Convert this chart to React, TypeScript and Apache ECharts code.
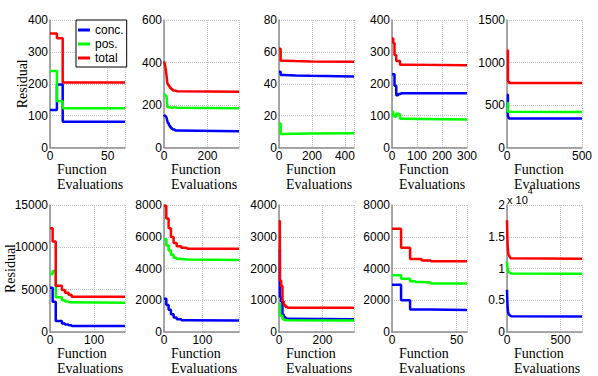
import React, { useEffect, useRef } from "react";
import * as echarts from "echarts";

// ---------- data ----------
const seriesNames = ["conc.", "pos.", "total"];

// top row
const evalsA1 = [0, 6, 11, 65];
const concA1 = [118, 198, 81, 81];
const posA1 = [240, 145, 123, 123];
const totalA1 = [358, 343, 204, 204];

const evalsA2 = [0, 3, 6, 9, 12, 15, 18, 22, 27, 33, 40, 50, 62, 345];
const concA2 = [155, 150, 148, 146, 140, 125, 115, 105, 97, 90, 85, 80, 77, 77];
const posA2 = [252, 250, 246, 244, 240, 192, 190, 189, 188, 187, 190, 187, 185, 185];
const totalA2 = [405, 395, 380, 360, 335, 305, 295, 288, 280, 274, 268, 265, 262, 262];

const evalsA3 = [0, 10, 30, 100, 190, 455];
const concA3 = [47.5, 45.5, 45.2, 45, 44.6, 44.6];
const posA3 = [15, 8.4, 8.6, 8.8, 9, 9];
const totalA3 = [62, 54.4, 54.2, 54, 53.8, 53.8];

const evalsA4 = [0, 5, 10, 17, 25, 32, 40, 300];
const concA4 = [230, 230, 194, 164, 168, 170, 170, 170];
const posA4 = [112, 98, 96, 107, 104, 90, 88, 88];
const totalA4 = [342, 328, 290, 271, 272, 260, 258, 258];

const evalsA5 = [0, 6, 12, 500];
const concA5 = [620, 360, 342, 342];
const posA5 = [525, 420, 418, 418];
const totalA5 = [1140, 780, 760, 760];

// bottom row
const evalsB1 = [0, 6, 13, 27, 34, 42, 49, 170];
const concB1 = [5240, 3580, 1300, 1000, 900, 800, 710, 710];
const posB1 = [6850, 7200, 4100, 3750, 3600, 3500, 3450, 3450];
const totalB1 = [12250, 10700, 5450, 4950, 4650, 4400, 4170, 4170];

const evalsB2 = [0, 6, 12, 18, 25, 33, 45, 60, 195];
const concB2 = [2100, 1700, 1400, 1120, 920, 800, 740, 720, 720];
const posB2 = [5850, 5450, 5130, 4870, 4680, 4600, 4560, 4530, 4530];
const totalB2 = [7950, 7150, 6530, 5990, 5600, 5400, 5300, 5250, 5250];

const evalsB3 = [0, 4, 10, 16, 22, 30, 40, 345];
const concB3 = [2600, 1100, 950, 550, 470, 420, 400, 400];
const posB3 = [900, 520, 500, 410, 380, 370, 360, 360];
const totalB3 = [3500, 1620, 1450, 960, 850, 790, 760, 760];

const evalsB4 = [0, 7, 14, 18, 23, 30, 58];
const concB4 = [2980, 2000, 1420, 1420, 1420, 1380, 1380];
const posB4 = [3570, 3350, 3200, 3150, 3120, 3060, 3060];
const totalB4 = [6500, 5300, 4600, 4600, 4500, 4450, 4450];

const evalsB5 = [0, 3, 6, 10, 15, 22, 30, 40, 700];
const concB5 = [6650, 5000, 3900, 3200, 2800, 2600, 2500, 2460, 2460];
const posB5 = [11100, 10400, 9900, 9600, 9400, 9300, 9200, 9160, 9160];
const totalB5 = [17600, 15200, 13700, 12700, 12100, 11800, 11600, 11520, 11520];

// axis extents / tick steps
const xMaxes = [65, 345, 455, 300, 500, 170, 195, 345, 58, 700];
const xSteps = [50, 200, 200, 100, 500, 100, 100, 200, 50, 500];
const yMaxes = [400, 600, 80, 400, 1500, 15000, 8000, 4000, 8000, 20000];
const ySteps = [100, 200, 20, 100, 500, 5000, 2000, 1000, 2000, 5000];

const panelData = [
  [evalsA1, concA1, posA1, totalA1],
  [evalsA2, concA2, posA2, totalA2],
  [evalsA3, concA3, posA3, totalA3],
  [evalsA4, concA4, posA4, totalA4],
  [evalsA5, concA5, posA5, totalA5],
  [evalsB1, concB1, posB1, totalB1],
  [evalsB2, concB2, posB2, totalB2],
  [evalsB3, concB3, posB3, totalB3],
  [evalsB4, concB4, posB4, totalB4],
  [evalsB5, concB5, posB5, totalB5],
];

// ---------- layout / style ----------
const COLORS = ["#0000ff", "#00ff00", "#ff0000"];
const COL_LEFT = [50, 164, 279, 392, 507];
const ROW_TOP = [20, 205];
const PW = 75;
const PH = 127.5;
const SANS = "'Liberation Sans', Arial, sans-serif";
const SERIF = "'Liberation Serif', 'Times New Roman', serif";
const AXIS_COLOR = "#8c8c8c";

export default function App() {
  const ref = useRef<HTMLDivElement>(null);

  useEffect(() => {
    if (!ref.current) return;
    const chart = echarts.init(ref.current, null, { renderer: "svg" });

    const grids: any[] = [];
    const xAxes: any[] = [];
    const yAxes: any[] = [];
    const series: any[] = [];

    panelData.forEach((pd, i) => {
      const row = i < 5 ? 0 : 1;
      const col = i % 5;
      grids.push({
        left: COL_LEFT[col],
        top: ROW_TOP[row],
        width: PW,
        height: PH,
        containLabel: false,
      });
      const xMax = xMaxes[i];
      const xStep = xSteps[i];
      const showMax = xMax % xStep === 0;
      xAxes.push({
        type: "value",
        gridIndex: i,
        min: 0,
        max: xMax,
        interval: xStep,
        axisLine: { show: true, onZero: false, lineStyle: { color: AXIS_COLOR, width: 1.5 } },
        axisTick: { show: false },
        splitLine: { show: true, lineStyle: { type: "dotted", color: "#c4c4c4", width: 1 } },
        axisLabel: {
          showMaxLabel: showMax,
          showMinLabel: true,
          margin: 2,
          color: "#000",
          fontFamily: SANS,
          fontSize: 12,
          lineHeight: 12,
          formatter: (v: number) => String(v),
        },
        name: "Function\nEvaluations",
        nameLocation: "start",
        nameGap: -7,
        nameMoveOverlap: false,
        nameTextStyle: {
          fontFamily: SERIF,
          fontSize: 14,
          color: "#000",
          align: "left",
          verticalAlign: "top",
          lineHeight: 15,
          padding: [14, 0, 0, 0],
        },
      });
      const isExp = i === 9;
      yAxes.push({
        type: "value",
        gridIndex: i,
        min: 0,
        max: yMaxes[i],
        interval: ySteps[i],
        axisLine: { show: true, onZero: false, lineStyle: { color: AXIS_COLOR, width: 1.5 } },
        axisTick: { show: false },
        splitLine: { show: true, lineStyle: { type: "dotted", color: "#c4c4c4", width: 1 } },
        axisLabel: {
          margin: 2,
          color: "#000",
          fontFamily: SANS,
          fontSize: 12,
          formatter: isExp ? (v: number) => String(v / 10000) : (v: number) => String(v),
        },
        name: col === 0 ? "Residual" : "",
        nameLocation: "middle",
        nameGap: row === 0 ? 21 : 33,
        nameMoveOverlap: false,
        nameTextStyle: { fontFamily: SERIF, fontSize: 14, color: "#000" },
      });
      const evals = pd[0];
      for (let k = 0; k < 3; k++) {
        const vals = pd[k + 1];
        series.push({
          type: "line",
          name: seriesNames[k],
          xAxisIndex: i,
          yAxisIndex: i,
          step: "end",
          symbol: "none",
          showSymbol: false,
          lineStyle: { color: COLORS[k], width: 2.5 },
          itemStyle: { color: COLORS[k] },
          data: evals.map((x, j) => [x, vals[j]]),
          z: 3 + k,
        });
      }
    });

    chart.setOption({
      animation: false,
      backgroundColor: "#fff",
      grid: grids,
      xAxis: xAxes,
      yAxis: yAxes,
      series,
      legend: {
        data: seriesNames,
        orient: "vertical",
        left: 76,
        top: 20,
        icon: "rect",
        itemWidth: 12,
        itemHeight: 3,
        itemGap: 2,
        padding: [4, 3, 3, 2],
        borderColor: "#000",
        borderWidth: 1,
        backgroundColor: "#fff",
        textStyle: { fontFamily: SANS, fontSize: 12, color: "#000", lineHeight: 12 },
        selectedMode: false,
      },
      graphic: [
        {
          type: "text",
          id: "expLabel",
          x: 507,
          y: 186,
          z: 100,
          style: {
            text: "{a|x 10}{s|4}",
            fill: "#000",
            rich: {
              a: { fontFamily: SANS, fontSize: 11, lineHeight: 19, verticalAlign: "bottom", fill: "#000" },
              s: { fontFamily: SANS, fontSize: 9, lineHeight: 10, verticalAlign: "top", fill: "#000" },
            },
          },
        },
      ],
    });

    return () => chart.dispose();
  }, []);

  return (
    <div
      ref={ref}
      style={{ position: "fixed", left: 0, top: 0, width: 598, height: 376, background: "#fff" }}
    />
  );
}
